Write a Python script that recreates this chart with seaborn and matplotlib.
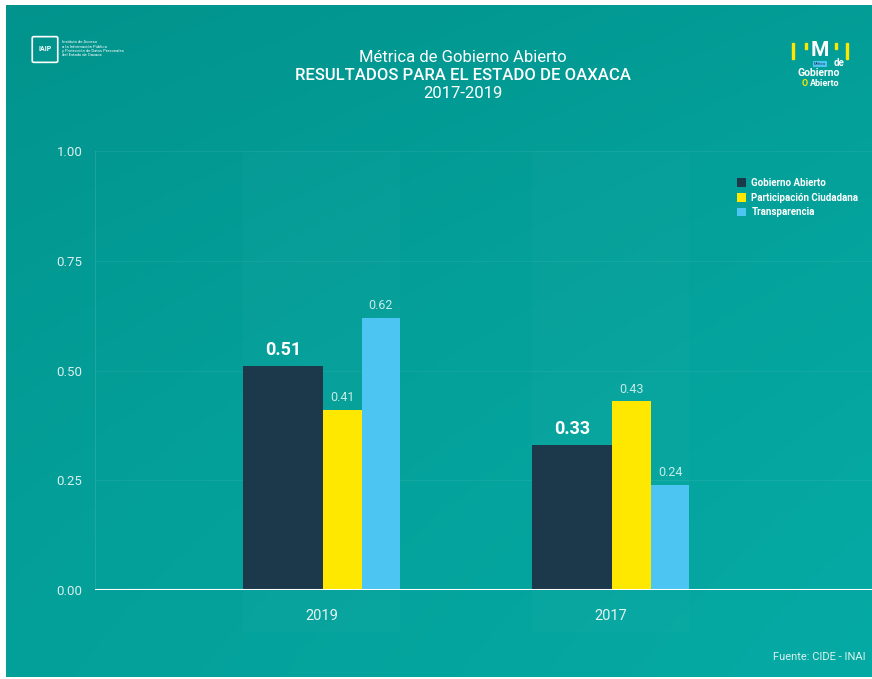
import numpy as np
import matplotlib
matplotlib.use("Agg")
import matplotlib.pyplot as plt
import seaborn as sns
from matplotlib.colors import LinearSegmentedColormap
from matplotlib.patches import FancyBboxPatch, Rectangle

# data
years = ["2019", "2017"]
series = ["Gobierno Abierto", "Participación Ciudadana", "Transparencia"]
gobierno_abierto = [0.51, 0.33]
participacion_ciudadana = [0.41, 0.43]
transparencia = [0.62, 0.24]
y_ticks = [0.00, 0.25, 0.50, 0.75, 1.00]

# styles
colors = ["#1b394b", "#ffe800", "#4cc5f2"]
widths = [0.276, 0.135, 0.131]
offsets = [-0.133, 0.0725, 0.2055]   # bar centre relative to the year's slot
label_text = "#c6ebe8"

sns.set_theme(style="white")
plt.rcParams["font.family"] = ["Roboto", "DejaVu Sans"]

fig = plt.figure(figsize=(8.72, 6.79), dpi=100)
fig.patch.set_facecolor("white")

# teal background with a soft gradient
bg = fig.add_axes([6 / 872, 2 / 679, 866 / 872, 672 / 679], zorder=0)
yy, xx = np.mgrid[0:1:200j, 0:1:200j]
grad = np.clip(0.25 + 0.45 * yy + 0.35 * xx - 0.25 * (yy - 0.5) ** 2, 0, 1)
teal = LinearSegmentedColormap.from_list("teal", ["#008e87", "#06aaa4"])
bg.imshow(grad, cmap=teal, aspect="auto", extent=[0, 1, 1, 0], vmin=0, vmax=1)
bg.axis("off")

ax = fig.add_axes([95 / 872, 89 / 679, 777 / 872, 439 / 679], zorder=1)
ax.patch.set_alpha(0)

values = [gobierno_abierto, participacion_ciudadana, transparencia]
for name, vals, color, w, off, i in zip(series, values, colors, widths, offsets, range(3)):
    sns.barplot(x=years, y=vals, order=years, color=color, width=w,
                saturation=1, errorbar=None, label=name, ax=ax, zorder=3,
                linewidth=0, edgecolor="none")
    cont = ax.containers[-1]
    for p in cont:
        p.set_x(p.get_x() + off)
    labels = [f"{v:.2f}" for v in vals]
    if i == 0:
        ax.bar_label(cont, labels=labels, padding=5, fontsize=13,
                     fontweight="bold", color="white")
    else:
        ax.bar_label(cont, labels=labels, padding=4, fontsize=9,
                     color=label_text)

ax.set_xlim(-0.782, 1.902)
ax.set_ylim(0, 1.0)
ax.set_yticks(y_ticks)
ax.set_yticklabels([f"{t:.2f}" for t in y_ticks])
ax.set_xlabel("")
ax.set_ylabel("")

# lighter bands behind each year
for k in range(len(years)):
    ax.axvspan(k - 0.271, k + 0.271, ymin=-0.096, ymax=1.0, color="white",
               alpha=0.02, lw=0, zorder=0, clip_on=False)

ax.yaxis.grid(True, color="white", alpha=0.06, lw=0.8)
ax.set_axisbelow(True)
for s in ["top", "right", "bottom"]:
    ax.spines[s].set_visible(False)
ax.spines["left"].set_color((1, 1, 1, 0.1))
ax.spines["left"].set_linewidth(0.8)
ax.axhline(0, color="white", lw=2.2, zorder=4)

ax.tick_params(axis="y", length=0, pad=9, labelsize=9.5, labelcolor="#d9f1ef")
ax.tick_params(axis="x", length=0, pad=14, labelsize=10.5, labelcolor="#e4f5f3")

leg = ax.legend(loc="upper left", bbox_to_anchor=(728 / 872, 1 - 169 / 679),
                bbox_transform=fig.transFigure, frameon=False, handlelength=1.0,
                handleheight=1.0, handletextpad=0.5, labelspacing=0.5,
                prop={"size": 7, "weight": "bold"}, labelcolor="white")

# titles
fig.text(463 / 872, 1 - 57 / 679, "Métrica de Gobierno Abierto", ha="center",
         va="center", fontsize=12, color="white")
fig.text(463 / 872, 1 - 75 / 679, "RESULTADOS PARA EL ESTADO DE OAXACA",
         ha="center", va="center", fontsize=12, color="white", fontweight="medium")
fig.text(463 / 872, 1 - 94 / 679, "2017-2019", ha="center", va="center",
         fontsize=12, color="white")

# left logo
fig.patches.append(FancyBboxPatch((34 / 872, 1 - 61 / 679), 22 / 872, 23 / 679,
                                  boxstyle="round,pad=0.002", fc="none",
                                  ec="white", lw=1.2, transform=fig.transFigure))
fig.text(45 / 872, 1 - 49 / 679, "IAIP", ha="center", va="center", fontsize=5,
         color="white", fontweight="bold")
logo_lines = ["Instituto de Acceso", "a la Información Pública",
              "y Protección de Datos Personales", "del Estado de Oaxaca"]
for j, t in enumerate(logo_lines):
    fig.text(62 / 872, 1 - (42 + j * 4.5) / 679, t, ha="left", va="center",
             fontsize=3, color="white")

# right logo
for xb, h in [(792, 16), (805, 6), (835, 6), (846, 16)]:
    fig.patches.append(Rectangle((xb / 872, 1 - (43 + h) / 679), 2.2 / 872, h / 679,
                                 color="#ffe800", transform=fig.transFigure))
fig.text(820 / 872, 1 - 51 / 679, "M", ha="center", va="center", fontsize=15,
         color="white", fontweight="bold")
fig.text(820 / 872, 1 - 64 / 679, "Métrica", ha="center", va="center", fontsize=2.5,
         color="#1b394b", bbox=dict(fc="#4cc5f2", ec="none", pad=0.6))
fig.text(839 / 872, 1 - 63.5 / 679, "de", ha="center", va="center", fontsize=7,
         color="white", fontweight="bold")
fig.text(819 / 872, 1 - 73.5 / 679, "Gobierno", ha="center", va="center", fontsize=7.5,
         color="white", fontweight="bold")
fig.text(805 / 872, 1 - 83 / 679, "O", ha="center", va="center", fontsize=6.5,
         color="#ffe800", fontweight="bold")
fig.text(825 / 872, 1 - 83.5 / 679, "Abierto", ha="center", va="center", fontsize=6.5,
         color="white", fontweight="bold")

fig.text(773 / 872, 1 - 657 / 679, "Fuente: CIDE - INAI", ha="left", va="center",
         fontsize=8, color="#d9f1ef")

fig.savefig("out.png", dpi=100)
